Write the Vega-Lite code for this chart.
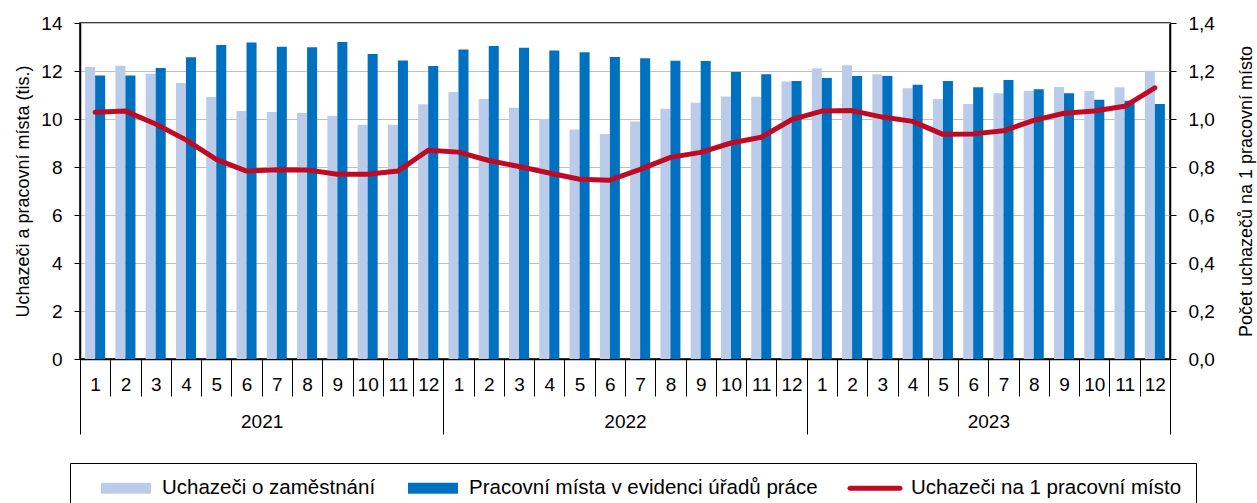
{
  "$schema": "https://vega.github.io/schema/vega-lite/v6.json",
  "width": 1090,
  "height": 336,
  "autosize": {"type": "none"},
  "padding": {"left": 80, "top": 23, "right": 87, "bottom": 144},
  "background": "white",
  "config": {
    "font": "Liberation Sans",
    "view": {"stroke": "black", "strokeWidth": 1.5},
    "axis": {"labelFont": "Liberation Sans", "titleFont": "Liberation Sans", "labelColor": "black", "titleColor": "black"}
  },
  "layer": [
    {
      "data": {
        "values": [
          {"t": "2021-1", "ucha": 12.17, "mista": 11.81, "ratio": 1.028},
          {"t": "2021-2", "ucha": 12.22, "mista": 11.81, "ratio": 1.033},
          {"t": "2021-3", "ucha": 11.89, "mista": 12.13, "ratio": 0.979},
          {"t": "2021-4", "ucha": 11.5, "mista": 12.57, "ratio": 0.913},
          {"t": "2021-5", "ucha": 10.92, "mista": 13.08, "ratio": 0.832},
          {"t": "2021-6", "ucha": 10.33, "mista": 13.19, "ratio": 0.783},
          {"t": "2021-7", "ucha": 10.29, "mista": 13.01, "ratio": 0.789},
          {"t": "2021-8", "ucha": 10.25, "mista": 12.99, "ratio": 0.788},
          {"t": "2021-9", "ucha": 10.14, "mista": 13.21, "ratio": 0.77},
          {"t": "2021-10", "ucha": 9.76, "mista": 12.71, "ratio": 0.77},
          {"t": "2021-11", "ucha": 9.76, "mista": 12.44, "ratio": 0.783},
          {"t": "2021-12", "ucha": 10.61, "mista": 12.21, "ratio": 0.87},
          {"t": "2022-1", "ucha": 11.13, "mista": 12.9, "ratio": 0.862},
          {"t": "2022-2", "ucha": 10.83, "mista": 13.04, "ratio": 0.827},
          {"t": "2022-3", "ucha": 10.47, "mista": 12.97, "ratio": 0.802},
          {"t": "2022-4", "ucha": 10.0, "mista": 12.85, "ratio": 0.775},
          {"t": "2022-5", "ucha": 9.56, "mista": 12.78, "ratio": 0.749},
          {"t": "2022-6", "ucha": 9.38, "mista": 12.58, "ratio": 0.745},
          {"t": "2022-7", "ucha": 9.9, "mista": 12.53, "ratio": 0.79},
          {"t": "2022-8", "ucha": 10.43, "mista": 12.43, "ratio": 0.84},
          {"t": "2022-9", "ucha": 10.68, "mista": 12.42, "ratio": 0.861},
          {"t": "2022-10", "ucha": 10.94, "mista": 11.96, "ratio": 0.9},
          {"t": "2022-11", "ucha": 10.93, "mista": 11.86, "ratio": 0.924},
          {"t": "2022-12", "ucha": 11.56, "mista": 11.58, "ratio": 0.997},
          {"t": "2023-1", "ucha": 12.11, "mista": 11.71, "ratio": 1.033},
          {"t": "2023-2", "ucha": 12.24, "mista": 11.79, "ratio": 1.035},
          {"t": "2023-3", "ucha": 11.86, "mista": 11.79, "ratio": 1.008},
          {"t": "2023-4", "ucha": 11.28, "mista": 11.43, "ratio": 0.99},
          {"t": "2023-5", "ucha": 10.83, "mista": 11.58, "ratio": 0.936},
          {"t": "2023-6", "ucha": 10.63, "mista": 11.32, "ratio": 0.938},
          {"t": "2023-7", "ucha": 11.07, "mista": 11.63, "ratio": 0.951},
          {"t": "2023-8", "ucha": 11.18, "mista": 11.24, "ratio": 0.994},
          {"t": "2023-9", "ucha": 11.33, "mista": 11.07, "ratio": 1.024},
          {"t": "2023-10", "ucha": 11.17, "mista": 10.8, "ratio": 1.033},
          {"t": "2023-11", "ucha": 11.32, "mista": 10.76, "ratio": 1.053},
          {"t": "2023-12", "ucha": 12.01, "mista": 10.63, "ratio": 1.13}
        ]
      },
      "layer": [
        {
          "transform": [{"fold": ["ucha", "mista"], "as": ["key", "val"]}],
          "mark": {"type": "bar"},
          "encoding": {
            "x": {
              "field": "t", "type": "nominal", "sort": null,
              "scale": {"paddingInner": 0, "paddingOuter": 0},
              "axis": {
                "orient": "bottom", "title": null,
                "labelExpr": "split(datum.value, '-')[1]",
                "labelAngle": 0, "tickBand": "extent", "tickSize": 37,
                "tickColor": "black", "tickWidth": 1,
                "labelPadding": -12, "labelBaseline": "middle",
                "labelFontSize": 19, "domainColor": "black", "domainWidth": 1.5,
                "grid": false
              }
            },
            "xOffset": {
              "field": "key", "type": "nominal",
              "scale": {"domain": ["ucha", "mista"], "paddingInner": 0, "paddingOuter": 0.51}
            },
            "y": {
              "field": "val", "type": "quantitative",
              "scale": {"domain": [0, 14], "nice": false},
              "axis": {
                "orient": "left", "title": "Uchazeči a pracovní místa (tis.)",
                "values": [0, 2, 4, 6, 8, 10, 12, 14],
                "grid": true, "gridColor": "#BFBFBF", "gridWidth": 1,
                "tickSize": 6, "tickColor": "black", "labelPadding": 12,
                "labelFontSize": 19, "titleFontSize": 18, "titleFontWeight": "normal",
                "titlePadding": 8, "domainColor": "black", "domainWidth": 1.5
              }
            },
            "color": {
              "field": "key", "type": "nominal",
              "scale": {"domain": ["ucha", "mista", "ratio"], "range": ["#BBCCEA", "#0070C0", "#C00A23"]},
              "legend": {
                "orient": "none", "legendX": -10, "legendY": 440,
                "direction": "horizontal", "title": null,
                "labelExpr": "datum.value == 'ucha' ? 'Uchazeči o zaměstnání' : datum.value == 'mista' ? 'Pracovní místa v evidenci úřadů práce' : 'Uchazeči na 1 pracovní místo'",
                "labelFontSize": 20.5, "labelFont": "Liberation Sans", "labelColor": "black",
                "labelLimit": 1000,
                "symbolType": "M-1,-0.5H3.545V0.5H-1Z", "symbolSize": 484,
                "symbolStrokeWidth": 0, "symbolOffset": 17, "labelOffset": 39,
                "columnPadding": 15, "padding": 14,
                "strokeColor": "black", "fillColor": "white",
                "encode": {
                  "symbols": {
                    "update": {
                      "shape": {"signal": "datum.value == 'ratio' ? 'M-1,-0.227H3.545A0.227,0.227,0,0,1,3.545,0.227H-1A0.227,0.227,0,0,1,-1,-0.227Z' : 'M-1,-0.5H3.545V0.5H-1Z'"}
                    }
                  }
                }
              }
            }
          }
        },
        {
          "mark": {"type": "line", "strokeWidth": 5, "strokeCap": "round", "strokeJoin": "round"},
          "encoding": {
            "x": {"field": "t", "type": "nominal", "sort": null},
            "y": {
              "field": "ratio", "type": "quantitative",
              "scale": {"domain": [0, 1.4], "nice": false},
              "axis": {
                "orient": "right", "title": "Počet uchazečů na 1 pracovní místo",
                "values": [0, 0.2, 0.4, 0.6, 0.8, 1.0, 1.2, 1.4],
                "labelExpr": "replace(format(datum.value, '.1f'), '.', ',')",
                "grid": false, "tickSize": 6, "tickColor": "black", "labelPadding": 12,
                "labelFontSize": 19, "titleFontSize": 18, "titleFontWeight": "normal",
                "titleAngle": -90, "titlePadding": 41,
                "domainColor": "black", "domainWidth": 1.5
              }
            },
            "color": {"datum": "ratio", "type": "nominal"}
          }
        }
      ],
      "resolve": {"scale": {"y": "independent"}, "axis": {"y": "independent"}}
    },
    {
      "data": {"values": [{"year": "2021"}, {"year": "2022"}, {"year": "2023"}]},
      "mark": {"type": "bar", "opacity": 0},
      "encoding": {
        "x": {
          "field": "year", "type": "nominal", "sort": null,
          "scale": {"paddingInner": 0, "paddingOuter": 0},
          "axis": {
            "orient": "bottom", "title": null, "labelAngle": 0,
            "tickBand": "extent", "tickSize": 75, "tickColor": "black", "tickWidth": 1,
            "labelPadding": -13, "labelBaseline": "middle",
            "labelFontSize": 19, "domain": false, "grid": false
          }
        }
      }
    }
  ],
  "resolve": {"scale": {"x": "independent"}, "axis": {"x": "independent"}}
}
